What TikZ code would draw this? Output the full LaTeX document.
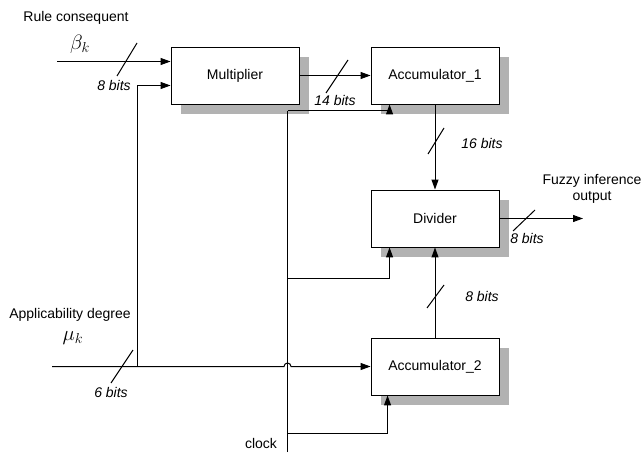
\documentclass[tikz,border=0pt]{standalone}
\usepackage{fontspec}
\setmainfont{Liberation Sans}
\usetikzlibrary{arrows.meta,shadows,calc}
\begin{document}
\begin{tikzpicture}[x=1pt,y=-1pt,
  font=\fontsize{14}{16}\selectfont,
  blk/.style={draw, line width=0.9pt, fill=white, minimum width=128pt, minimum height=57pt, inner sep=0pt,
    drop shadow={shadow xshift=10pt, shadow yshift=-10pt, fill=black!30, opacity=1}},
  wire/.style={line width=1pt},
  arr/.style={wire, -{Triangle[length=10pt,width=7pt]}},
  lbl/.style={font=\fontsize{14}{16}\selectfont\itshape, inner sep=0pt},
  txt/.style={inner sep=0pt, align=center},
  sym/.style={inner sep=0pt, font=\fontsize{20}{22}\selectfont}]
\useasboundingbox (0,0) rectangle (644,452);

\node[blk] (mult) at (235,75.5) {Multiplier};
\node[blk] (acc1) at (435,75.5) {Accumulator\_1};
\node[blk] (div)  at (435,218.5) {Divider};
\node[blk] (acc2) at (435,366.5) {Accumulator\_2};

\node[txt] (rc) at (76,18) {Rule consequent};
\node[sym] (beta) at (80,44) {$\beta_k$};
\node[txt] (ad) at (70,315) {Applicability degree};
\node[sym] (mu) at (73,338) {$\mu_k$};
\node[txt] (fo) at (592,189) {Fuzzy inference\\output};
\node[txt] (clklbl) at (261,443) {clock};

\node[lbl] (l1) at (114,85) {8 bits};
\node[lbl] (l2) at (111,392) {6 bits};
\node[lbl] (l3) at (335,100) {14 bits};
\node[lbl] (l4) at (482,143) {16 bits};
\node[lbl] (l5) at (482,296) {8 bits};
\node[lbl] (l6) at (527,238) {8 bits};

\coordinate (bin) at (57,61.5);
\coordinate (min) at (52,366.5);
\coordinate (mtap) at (137.5,366.5);
\coordinate (mtop) at (137.5,85.5);
\coordinate (clk) at (287.5,452);
\coordinate (c1) at (287.5,110.5);
\coordinate (c2) at (287.5,278.5);
\coordinate (c3) at (287.5,433.5);
\coordinate (hop) at (284,366.5);
\coordinate (out) at (583,218.5);

\draw[arr] (bin) -- (bin -| mult.west);
\draw[arr] (mtap) -- (mtop) -- (mtop -| mult.west);
\draw[arr] (min) -- (hop) arc[start angle=180, end angle=0, radius=3.5pt] -- (acc2.west);
\draw[arr] (mult.east) -- (acc1.west);
\draw[arr] (acc1.south) -- (div.north);
\draw[arr] (acc2.north) -- (div.south);
\draw[arr] (div.east) -- (out);

\draw[wire] (clk) -- (c1);
\draw[arr] (c1) -| ([xshift=19pt]acc1.south west);
\draw[arr] (c2) -| ([xshift=19pt]div.south west);
\draw[arr] (c3) -| ([xshift=17pt]acc2.south west);

\draw[wire] (117,76) -- (137,43);
\draw[wire] (111,383) -- (133,350);
\draw[wire] (326,93) -- (348,60);
\draw[wire] (428,154) -- (444,128);
\draw[wire] (427,308) -- (444,285);
\draw[wire] (513,231) -- (535,210);
\end{tikzpicture}
\end{document}
